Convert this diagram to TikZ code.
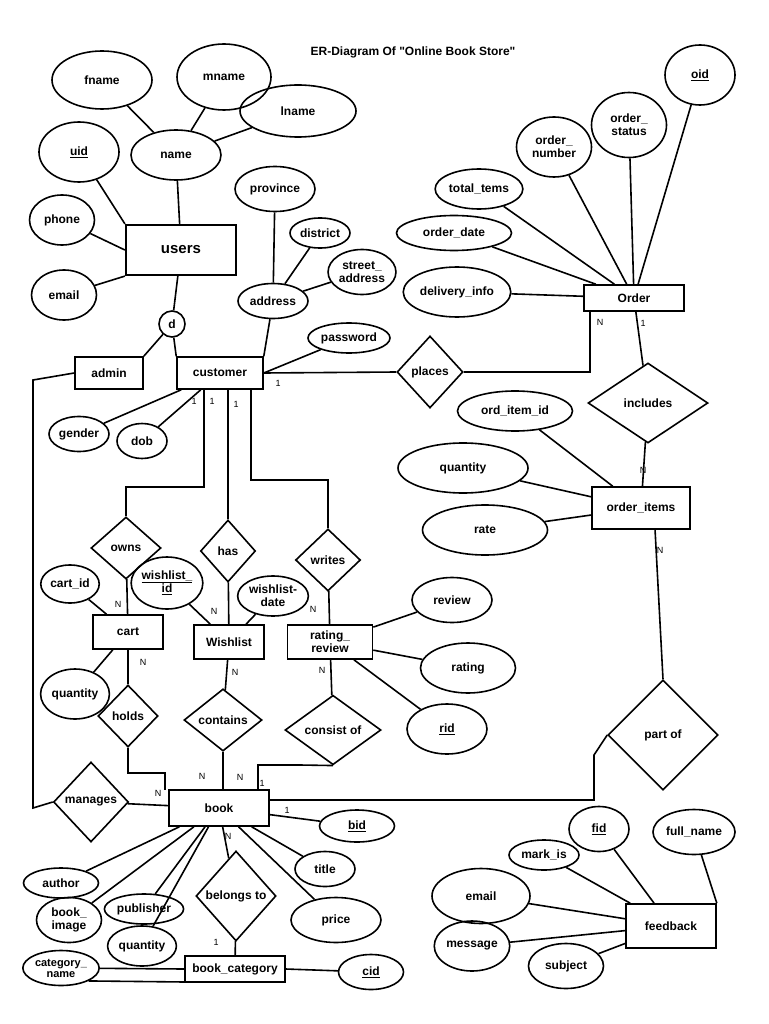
\documentclass[tikz,border=0pt]{standalone}
\usepackage{fontspec}
\setmainfont{Liberation Sans}[Ligatures=TeXOff]
\usetikzlibrary{shapes.geometric}
\begin{document}
\begin{tikzpicture}[x=1pt,y=-1pt,line width=1.6pt,
 every node/.style={font=\bfseries\fontsize{12}{13}\selectfont,align=center,inner sep=1pt},
 att/.style={draw,ellipse},
 ent/.style={draw,rectangle},
 rel/.style={draw,diamond,aspect=1},
 lab/.style={font=\fontsize{9}{10}\selectfont,draw=none}]
\useasboundingbox (0,0) rectangle (768,1024);
\node[draw=none] (title) at (413,52) {ER-Diagram Of "Online Book Store"};
% entities
\node[ent,minimum width=110,minimum height=50,line width=2.2pt,font=\bfseries\fontsize{15}{16}\selectfont] (users) at (181,250) {users};
\node[ent,minimum width=68,minimum height=32] (admin) at (109,373) {admin};
\node[ent,minimum width=86,minimum height=32] (customer) at (220,373) {customer};
\node[ent,minimum width=100,minimum height=26] (order) at (634,298) {Order};
\node[ent,minimum width=98,minimum height=42] (oitems) at (641,508) {order\_items};
\node[ent,minimum width=70,minimum height=34] (cart) at (128,632) {cart};
\node[ent,minimum width=70,minimum height=34] (wish) at (229,642) {Wishlist};
\node[ent,minimum width=85,minimum height=34] (rr) at (330,642) {rating\_\\review};
\node[ent,minimum width=100,minimum height=36] (book) at (219,808) {book};
\node[ent,minimum width=100,minimum height=26] (bcat) at (235,969) {book\_category};
\node[ent,minimum width=90,minimum height=44] (fb) at (671,926) {feedback};
% relationships
\node[rel,minimum width=66,minimum height=72] (places) at (430,372) {places};
\node[rel,minimum width=120,minimum height=80] (includes) at (648,403) {includes};
\node[rel,minimum width=70,minimum height=62] (owns) at (126,548) {owns};
\node[rel,minimum width=55,minimum height=62] (has) at (228,551) {has};
\node[rel,minimum width=65,minimum height=62] (writes) at (328,560) {writes};
\node[rel,minimum width=60,minimum height=62] (holds) at (128,716) {holds};
\node[rel,minimum width=78,minimum height=55] (contains) at (223,720) {contains};
\node[rel,minimum width=96,minimum height=55] (consist) at (333,730) {consist of};
\node[rel,minimum width=75,minimum height=80] (manages) at (91,802) {manages};
\node[rel,minimum width=110,minimum height=110] (partof) at (663,735) {part of};
\node[rel,minimum width=80,minimum height=90] (belongs) at (236,896) {belongs to};
\node[draw,circle,minimum size=26,inner sep=0pt] (d) at (172,324) {d};
% attributes
\node[att,minimum width=100,minimum height=58] (fname) at (102,80) {fname};
\node[att,minimum width=94,minimum height=66] (mname) at (224,77) {mname};
\node[att,minimum width=116,minimum height=52] (lname) at (298,111) {lname};
\node[att,minimum width=80,minimum height=60] (uid) at (79,152) {\underline{uid}};
\node[att,minimum width=90,minimum height=50] (name) at (176,155) {name};
\node[att,minimum width=65,minimum height=50] (phone) at (62,220) {phone};
\node[att,minimum width=65,minimum height=50] (email) at (64,295) {email};
\node[att,minimum width=80,minimum height=45] (province) at (275,189) {province};
\node[att,minimum width=60,minimum height=30] (district) at (320,233) {district};
\node[att,minimum width=65,minimum height=45] (street) at (362,272) {street\_\\address};
\node[att,minimum width=70,minimum height=35] (address) at (273,301) {address};
\node[att,minimum width=70,minimum height=30] (password) at (349,338) {password};
\node[att,minimum width=60,minimum height=35] (gender) at (79,434) {gender};
\node[att,minimum width=50,minimum height=35] (dob) at (142,441) {dob};
\node[att,minimum width=70,minimum height=60] (oid) at (700,75) {\underline{oid}};
\node[att,minimum width=75,minimum height=65] (ostatus) at (629,125) {order\_\\status};
\node[att,minimum width=75,minimum height=60] (onumber) at (554,147) {order\_\\number};
\node[att,minimum width=85,minimum height=40] (ttems) at (479,189) {total\_tems};
\node[att,minimum width=115,minimum height=35] (odate) at (454,233) {order\_date};
\node[att,minimum width=80,minimum height=50] (dinfo) at (457,292) {delivery\_info};
\node[att,minimum width=115,minimum height=40] (oiid) at (515,411) {ord\_item\_id};
\node[att,minimum width=130,minimum height=50] (oqty) at (463,468) {quantity};
\node[att,minimum width=125,minimum height=50] (rate) at (485,530) {rate};
\node[att,minimum width=58,minimum height=38] (cartid) at (70,584) {cart\_id};
\node[att,minimum width=60,minimum height=50] (cqty) at (75,694) {quantity};
\node[att,minimum width=50,minimum height=52,inner sep=0pt] (wid) at (167,583) {\underline{wishlist\_}\\\underline{id}};
\node[att,minimum width=70,minimum height=40] (wdate) at (273,596) {wishlist-\\date};
\node[att,minimum width=80,minimum height=45] (review) at (452,600) {review};
\node[att,minimum width=95,minimum height=50] (rating) at (468,668) {rating};
\node[att,minimum width=80,minimum height=50] (rid) at (447,729) {\underline{rid}};
\node[att,minimum width=75,minimum height=32] (bid) at (357,826) {\underline{bid}};
\node[att,minimum width=60,minimum height=35] (btitle) at (325,869) {title};
\node[att,minimum width=90,minimum height=45] (price) at (336,920) {price};
\node[att,minimum width=75,minimum height=30] (author) at (61,883) {author};
\node[att,minimum width=65,minimum height=45] (bimage) at (69,920) {book\_\\image};
\node[att,minimum width=65,minimum height=30] (publisher) at (144,909) {publisher};
\node[att,minimum width=65,minimum height=40] (bqty) at (142,946) {quantity};
\node[att,minimum width=75,minimum height=35,font=\bfseries\fontsize{11}{11}\selectfont] (catname) at (61,968) {category\_\\name};
\node[att,minimum width=65,minimum height=35] (cid) at (371,972) {\underline{cid}};
\node[att,minimum width=60,minimum height=45] (fid) at (599,829) {\underline{fid}};
\node[att,minimum width=75,minimum height=45] (fullname) at (694,832) {full\_name};
\node[att,minimum width=70,minimum height=30] (markis) at (544,855) {mark\_is};
\node[att,minimum width=98,minimum height=55] (femail) at (481,896) {email};
\node[att,minimum width=70,minimum height=50] (message) at (472,946) {message};
\node[att,minimum width=75,minimum height=45] (subject) at (566,966) {subject};
% users edges
\draw (fname)--(name); \draw (mname)--(name); \draw (lname)--(name);
\draw (name)--(users); \draw (uid)--(users.north west); \draw (phone)--(users.west); \draw (email)--(users.south west);
\draw (users)--(d); \draw (d)--(admin.north east); \draw (d)--(customer.north west);
\draw (address)--(customer.north east); \draw (province)--(address); \draw (district)--(address); \draw (street)--(address);
\draw (password)--(customer.east); \draw (customer)--(gender); \draw (customer)--(dob);
% order
\draw (customer.east)--(places.west);
\draw (places.east)--(590,372)--(590,311);
\draw (order)--(includes); \draw (includes)--(oitems);
\foreach \a in {oid,ostatus,onumber,ttems,odate,dinfo} \draw (\a)--(order);
\foreach \a in {oiid,oqty,rate} \draw (\a)--(oitems);
\draw (655,529)--(partof.north);
\draw (partof.west)--(594,755)--(594,800)--(book.east |- 0,800);
% customer to owns/has/writes
\draw (204,389)--(204,487)--(126,487)--(owns.north);
\draw (228,389)--(has.north);
\draw (251,389)--(251,480)--(328,480)--(writes.north);
\draw (owns)--(cart); \draw (has)--(wish); \draw (writes)--(rr);
\draw (cartid)--(cart); \draw (cqty)--(cart);
\draw (wid)--(wish); \draw (wdate)--(wish);
\draw (review)--(rr); \draw (rating)--(rr); \draw (rid)--(rr);
\draw (cart)--(holds); \draw (holds.south)--(128,773)--(165,773)--(165,790);
\draw (wish)--(contains); \draw (contains)--(223,790);
\draw (rr)--(consist); \draw (consist.south)--(300,765)--(258,765)--(258,790);
\draw (admin.west)--(33,380)--(33,808)--(manages.west); \draw (manages)--(book);
\foreach \a in {bid,btitle,price,author,bimage,publisher,bqty} \draw (book)--(\a);
\draw (book)--(belongs); \draw (belongs)--(bcat);
\draw (catname)--(bcat.west); \draw (catname.south east)--(185,982);
\draw (bcat.east)--(cid);
\foreach \a in {fid,markis,femail,message,subject} \draw (\a)--(fb);
\draw (fullname)--(fb.north east);
% cardinalities
\node[lab] (l1) at (278,383) {1};
\node[lab] (l2) at (600,322) {N};
\node[lab] (l3) at (643,323) {1};
\node[lab] (l4) at (643,470) {N};
\node[lab] (l5) at (660,550) {N};
\node[lab] (l6) at (194,401) {1};
\node[lab] (l7) at (212,401) {1};
\node[lab] (l8) at (236,404) {1};
\node[lab] (l9) at (118,604) {N};
\node[lab] (l10) at (214,611) {N};
\node[lab] (l11) at (313,609) {N};
\node[lab] (l12) at (143,662) {N};
\node[lab] (l13) at (235,672) {N};
\node[lab] (l14) at (322,670) {N};
\node[lab] (l15) at (202,776) {N};
\node[lab] (l16) at (240,777) {N};
\node[lab] (l17) at (158,793) {N};
\node[lab] (l18) at (262,783) {1};
\node[lab] (l19) at (287,810) {1};
\node[lab] (l20) at (228,836) {N};
\node[lab] (l21) at (216,942) {1};
\end{tikzpicture}
\end{document}
